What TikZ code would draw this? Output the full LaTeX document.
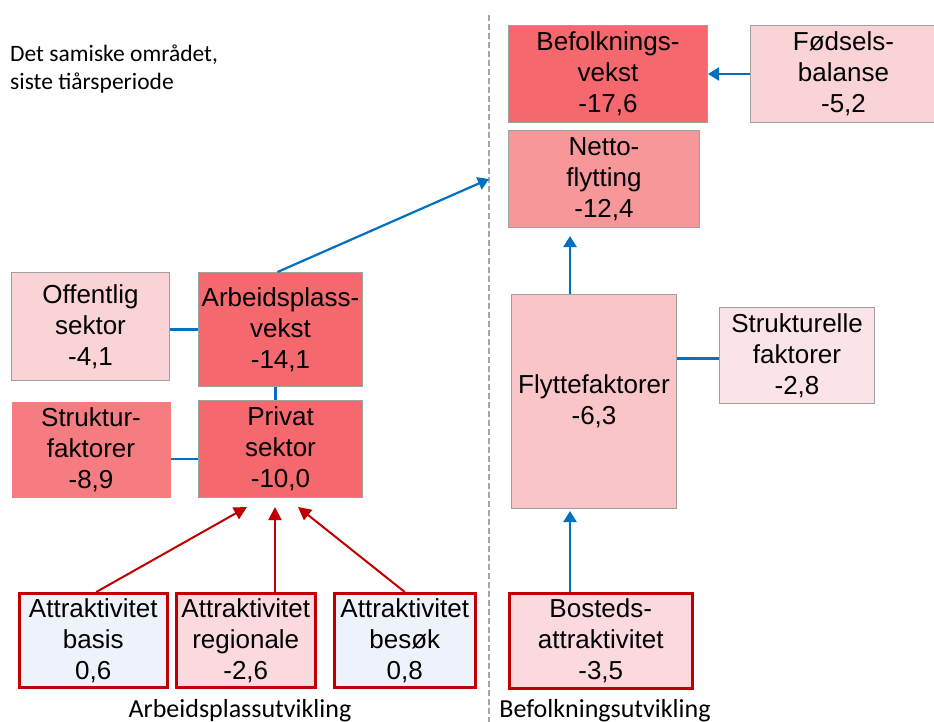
\documentclass[tikz,border=0pt]{standalone}
\usepackage{fontspec}
\setmainfont{Liberation Sans}
\newfontfamily\calibri{Carlito}
\usetikzlibrary{arrows.meta}

\definecolor{rodmork}{HTML}{F4686E}
\definecolor{rodmiddels}{HTML}{F7979A}
\definecolor{rodstruk}{HTML}{F57D81}
\definecolor{rosa}{HTML}{F9D3D5}
\definecolor{rosaflytt}{HTML}{F9C5C9}
\definecolor{rosalys}{HTML}{FBE4E7}
\definecolor{rosaattr}{HTML}{FADADE}
\definecolor{blalys}{HTML}{EEF3FB}
\definecolor{rodkant}{HTML}{C00000}
\definecolor{grakant}{HTML}{A0A0A0}
\definecolor{bla}{HTML}{0070C0}
\definecolor{skillegra}{HTML}{A6A6A6}

\tikzstyle{every node}=[font=\fontsize{26pt}{31pt}\selectfont]
\tikzset{
	boks/.style={draw=grakant, line width=1pt, align=center, inner sep=0pt, anchor=north west},
	rodboks/.style={boks, draw=rodkant, line width=2.5pt},
	blalinje/.style={draw=bla, line width=2.2pt},
	blapil/.style={blalinje, -{Triangle[length=11pt,width=13pt]}},
	rodpil/.style={draw=rodkant, line width=2pt, -{Triangle[length=13pt,width=13pt]}},
	etikett/.style={font=\calibri\fontsize{26pt}{28pt}\selectfont, inner sep=0pt}
}

\begin{document}
\begin{tikzpicture}[x=1pt, y=-1pt]
		\useasboundingbox (0,0) rectangle (934,722);

		% Skillelinje
		\coordinate (skilletopp) at (489,15);
		\coordinate (skillebunn) at (489,722);
		\draw[skillegra, line width=2pt, dash pattern=on 6pt off 3pt] (skilletopp) -- (skillebunn);

		% Tekster
		\node[etikett, font=\calibri\fontsize{23.5pt}{28pt}\selectfont, align=left, anchor=north west] (tittel) at (10,45) {Det samiske området,\\siste tiårsperiode};
		\node[etikett, anchor=base] (arbutv) at (240,717) {Arbeidsplassutvikling};
		\node[etikett, anchor=base] (befutv) at (605,717) {Befolkningsutvikling};

		% Befolkningsutvikling
		\node[boks, fill=rodmork, minimum width=199, minimum height=97] (befvekst) at (508,25) {Befolknings-\\vekst\\-17,6};
		\node[boks, fill=rosa, minimum width=186, minimum height=97] (fodsel) at (750,25) {Fødsels-\\balanse\\-5,2};
		\node[boks, fill=rodmiddels, minimum width=191, minimum height=97] (netto) at (508,130) {Netto-\\flytting\\-12,4};
		\node[boks, fill=rosaflytt, minimum width=165, minimum height=214] (flytte) at (511,294) {Flyttefaktorer\\-6,3};
		\node[boks, fill=rosalys, minimum width=155, minimum height=96] (strukturelle) at (719,307) {Strukturelle\\faktorer\\-2,8};
		\node[rodboks, fill=rosaattr, minimum width=183, minimum height=95] (bosted) at (508,592) {Bosteds-\\attraktivitet\\-3,5};

		% Arbeidsplassutvikling
		\node[boks, fill=rosa, minimum width=158, minimum height=108] (offentlig) at (11,272) {Offentlig\\sektor\\-4,1};
		\node[boks, fill=rodmork, minimum width=164, minimum height=114] (arbvekst) at (198,272) {Arbeidsplass-\\vekst\\-14,1};
		\node[boks, draw=none, fill=rodstruk, minimum width=159, minimum height=96] (strukfak) at (11,401) {Struktur-\\faktorer\\-8,9};
		\node[boks, fill=rodmork, minimum width=164, minimum height=97] (privat) at (198,400) {Privat\\sektor\\-10,0};
		\node[rodboks, fill=blalys, minimum width=148, minimum height=94] (basis) at (18,592) {Attraktivitet\\basis\\0,6};
		\node[rodboks, fill=rosaattr, minimum width=139, minimum height=94] (regional) at (175,592) {Attraktivitet\\regionale\\-2,6};
		\node[rodboks, fill=blalys, minimum width=141, minimum height=94] (besok) at (333,592) {Attraktivitet\\besøk\\0,8};

		% Blå forbindelser
		\coordinate (flyttx) at (570,0);
		\coordinate (skillemal) at (489,179);
		\draw[blapil] (fodsel.west) -- (befvekst.east);
		\draw[blapil, shorten >=8pt] (flytte.north -| flyttx) -- (netto.south -| flyttx);
		\draw[blapil, shorten >=2pt] (bosted.north -| flyttx) -- (flytte.south -| flyttx);
		\draw[blalinje] ([yshift=-3pt]strukturelle.west) -- ([yshift=-3pt]strukturelle.west -| flytte.east);
		\draw[blalinje] (arbvekst.west) -- (arbvekst.west -| offentlig.east);
		\draw[blalinje] ([yshift=-10pt]privat.west) -- ([yshift=-10pt]privat.west -| strukfak.east);
		\draw[blalinje] ([xshift=-5pt]arbvekst.south) -- ([xshift=-5pt]privat.north);
		\draw[blapil] ([xshift=-3pt]arbvekst.north) -- (skillemal);

		% Røde piler
		\coordinate (mal1) at (247,507);
		\coordinate (mal2) at (275,507);
		\coordinate (mal3) at (298,507);
		\draw[rodpil] ([xshift=3pt]basis.north) -- (mal1);
		\draw[rodpil] (regional.north -| mal2) -- (mal2);
		\draw[rodpil] (besok.north) -- (mal3);
\end{tikzpicture}
\end{document}
